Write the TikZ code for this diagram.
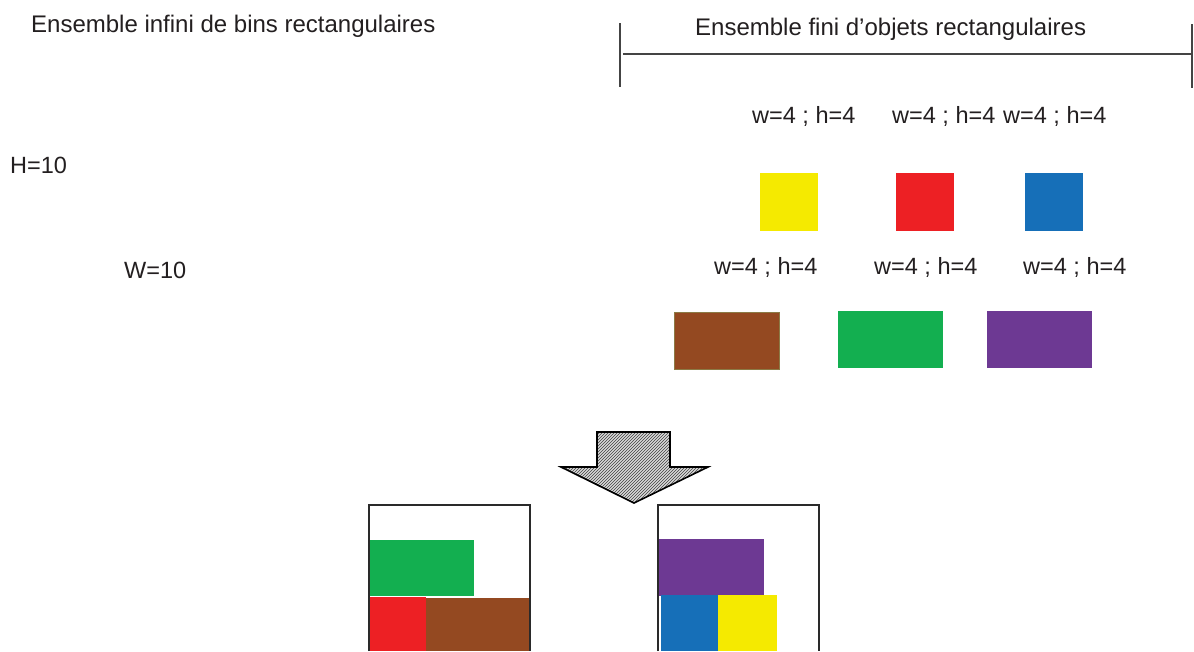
\documentclass[tikz,border=0pt]{standalone}
\usepackage{fontspec}
\setmainfont{Liberation Sans}
\usetikzlibrary{patterns}
\definecolor{txt}{HTML}{231F20}
\definecolor{rule}{HTML}{444444}
\definecolor{binline}{HTML}{2A2A2A}
\definecolor{cyellow}{HTML}{F5EA00}
\definecolor{cred}{HTML}{ED2024}
\definecolor{cblue}{HTML}{166FB8}
\definecolor{cbrown}{HTML}{944921}
\definecolor{cbrownedge}{HTML}{8C7A45}
\definecolor{cgreen}{HTML}{13AF50}
\definecolor{cpurple}{HTML}{6D3993}
\begin{document}
\begin{tikzpicture}[x=1pt,y=-1pt,
  label/.style={anchor=base west,inner sep=0pt,text=txt,font=\fontsize{23.5}{28}\selectfont},
  title/.style={label,font=\fontsize{24}{29}\selectfont},
  piece/.style={draw=none,inner sep=0pt,outer sep=0pt,anchor=north west},
  sq/.style={piece,minimum width=58pt,minimum height=58pt},
  bar/.style={piece,minimum width=105pt,minimum height=57pt},
  binwall/.style={draw=binline,line width=2.4pt},
  bracket/.style={draw=rule,line width=1.3pt}]
\useasboundingbox (0,0) rectangle (1194,651);
\fill[white] (0,0) rectangle (1194,651);

% headings and dimensions
\node[title] (tleft) at (31,32) {Ensemble infini de bins rectangulaires};
\node[title] (tright) at (695,35) {Ensemble fini d’objets rectangulaires};
\node[label] (hbin) at (10,173) {H=10};
\node[label] (wbin) at (124,278) {W=10};

% bracket over the set of items
\coordinate (bl1) at (620,23);
\coordinate (bl2) at (620,87);
\coordinate (br1) at (1192,24);
\coordinate (br2) at (1192,88);
\coordinate (hl) at (623,54);
\coordinate (hr) at (1191,54);
\draw[bracket] (bl1) -- (bl2);
\draw[bracket] (br1) -- (br2);
\draw[bracket] (hl) -- (hr);

% square items
\node[label] (s1) at (752,123) {w=4 ; h=4};
\node[label] (s2) at (892,123) {w=4 ; h=4};
\node[label] (s3) at (1003,123) {w=4 ; h=4};
\node[sq,fill=cyellow] (ysq) at (760,173) {};
\node[sq,fill=cred] (rsq) at (896,173) {};
\node[sq,fill=cblue] (bsq) at (1025,173) {};

% long items
\node[label] (r1) at (714,274) {w=4 ; h=4};
\node[label] (r2) at (874,274) {w=4 ; h=4};
\node[label] (r3) at (1023,274) {w=4 ; h=4};
\node[bar,fill=cbrown,draw=cbrownedge,line width=1pt] (brect) at (674,312) {};
\node[bar,fill=cgreen] (grect) at (838,311) {};
\node[bar,fill=cpurple] (prect) at (987,311) {};

% block arrow
\coordinate (a1) at (597,432);
\coordinate (a2) at (670,432);
\coordinate (a3) at (670,467);
\coordinate (a4) at (708,467);
\coordinate (a5) at (634,503);
\coordinate (a6) at (561,467);
\coordinate (a7) at (597,467);
\fill[gray!30] (a1) -- (a2) -- (a3) -- (a4) -- (a5) -- (a6) -- (a7) -- cycle;
\fill[pattern=north east lines,pattern color=black!75] (a1) -- (a2) -- (a3) -- (a4) -- (a5) -- (a6) -- (a7) -- cycle;
\draw[line width=1.6pt,line join=miter] (a1) -- (a2) -- (a3) -- (a4) -- (a5) -- (a6) -- (a7) -- cycle;

% first bin
\node[piece,fill=cgreen,minimum width=105pt,minimum height=56pt] (g1) at (369,540) {};
\node[piece,fill=cred,minimum width=58pt,minimum height=54pt] (r1b) at (368,597) {};
\node[piece,fill=cbrown,minimum width=103pt,minimum height=53pt] (b1) at (426,598) {};
\coordinate (lb1) at (369,651);
\coordinate (lb2) at (369,505);
\coordinate (lb3) at (530,505);
\coordinate (lb4) at (530,651);
\draw[binwall] (lb1) -- (lb2) -- (lb3) -- (lb4);

% second bin
\node[piece,fill=cpurple,minimum width=105pt,minimum height=57pt] (p2) at (659,539) {};
\node[piece,fill=cblue,minimum width=57pt,minimum height=56pt] (b2) at (661,595) {};
\node[piece,fill=cyellow,minimum width=59pt,minimum height=56pt] (y2) at (718,595) {};
\coordinate (rb1) at (658,651);
\coordinate (rb2) at (658,505);
\coordinate (rb3) at (819,505);
\coordinate (rb4) at (819,651);
\draw[binwall] (rb1) -- (rb2) -- (rb3) -- (rb4);
\end{tikzpicture}
\end{document}
